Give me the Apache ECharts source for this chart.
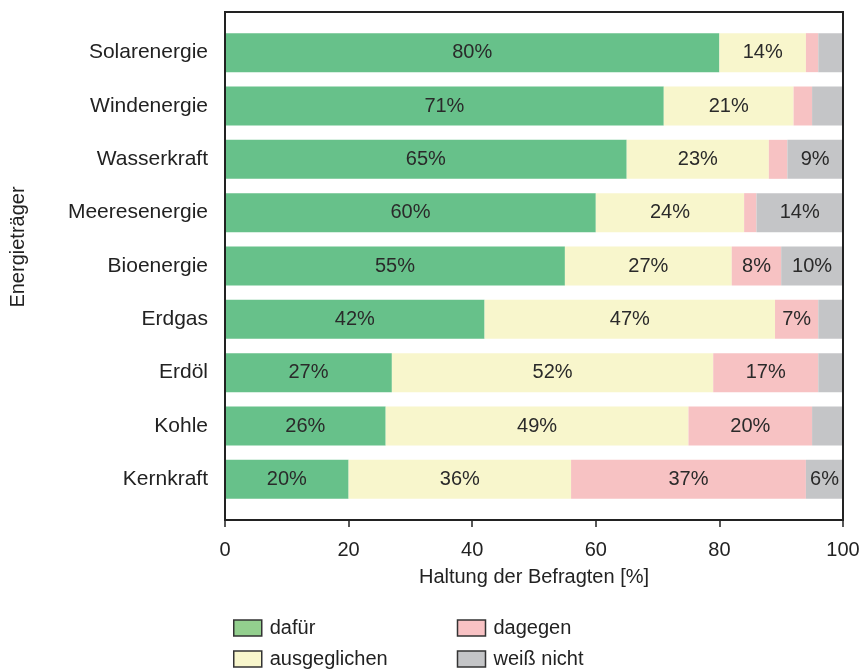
<!DOCTYPE html>
<html><head><meta charset="utf-8">
<script src="https://cdn.jsdelivr.net/npm/echarts@6/dist/echarts.min.js"></script>
<style>html,body{margin:0;padding:0;background:#fff}#c{width:859px;height:671px}</style>
</head><body><div id="c"></div>
<script>
const categories = ['Solarenergie','Windenergie','Wasserkraft','Meeresenergie','Bioenergie','Erdgas','Erdöl','Kohle','Kernkraft'];
const seriesNames = ['dafür','ausgeglichen','dagegen','weiß nicht'];
const dafuer       = [80, 71, 65, 60, 55, 42, 27, 26, 20];
const ausgeglichen = [14, 21, 23, 24, 27, 47, 52, 49, 36];
const dagegen      = [2, 3, 3, 2, 8, 7, 17, 20, 38];
const weissNicht   = [4, 5, 9, 14, 10, 4, 4, 5, 6];
// printed labels (as shown in the source chart)
const dagegenLabels = ['', '', '', '', '8%', '7%', '17%', '20%', '37%'];
const xTicks = [0, 20, 40, 60, 80, 100];

const colors = ['#67c18a', '#f8f6cc', '#f7c2c3', '#c4c5c7'];
const legendColors = ['#93cf8e', '#f8f6cc', '#f8c2c4', '#c4c5c7'];
const font = 'Liberation Sans, Arial, Helvetica, sans-serif';

const G = {left: 225, right: 16, top: 26, height: 480};
const frameTop = 12, frameBottom = 520;

function mk(name, data, idx, labels) {
  return {
    name, type: 'bar', stack: 'a', data, barWidth: 39,
    itemStyle: {color: colors[idx]},
    label: {
      show: true, position: 'inside', color: '#2a2a2a', fontSize: 20, fontFamily: font,
      formatter: p => labels ? labels[p.dataIndex] : (p.value >= 6 ? p.value + '%' : '')
    }
  };
}

const chart = echarts.init(document.getElementById('c'));
chart.setOption({
  animation: false,
  textStyle: {fontFamily: font},
  grid: {left: G.left, right: G.right, top: G.top, height: G.height, outerBoundsMode: 'none', containLabel: false},
  xAxis: {
    type: 'value', min: 0, max: 100, interval: 20, position: 'bottom', offset: frameBottom - (G.top + G.height),
    axisLine: {show: false},
    axisTick: {show: true, length: 7, lineStyle: {color: '#222', width: 1.5}},
    splitLine: {show: false},
    axisLabel: {fontSize: 20, color: '#222', margin: 20, fontFamily: font,
      formatter: v => xTicks.includes(v) ? String(v) : ''},
    name: 'Haltung der Befragten [%]', nameLocation: 'middle', nameGap: 47,
    nameTextStyle: {fontSize: 20, color: '#222', fontFamily: font}
  },
  yAxis: {
    type: 'category', data: categories, inverse: true,
    axisLine: {show: false}, axisTick: {show: false},
    axisLabel: {fontSize: 21, color: '#222', margin: 17, fontFamily: font}
  },
  legend: {
    orient: 'vertical', left: 233, top: 617, height: 58, padding: 0,
    icon: 'rect', itemWidth: 28, itemHeight: 16, itemGap: 9,
    data: seriesNames.map((n, i) => ({name: n, itemStyle: {color: legendColors[i], borderColor: '#333', borderWidth: 1.5}})),
    itemStyle: {borderColor: '#333', borderWidth: 1.5},
    textStyle: {fontSize: 20, color: '#222', fontFamily: font, lineHeight: 22, width: 178, padding: [0, 0, 0, 3]}
  },
  graphic: [
    {type: 'rect', silent: true, z: 10,
     shape: {x: G.left, y: frameTop, width: 859 - G.left - G.right, height: frameBottom - frameTop},
     style: {fill: 'none', stroke: '#222', lineWidth: 2}},
    {type: 'text', x: 18, y: 247, rotation: Math.PI / 2,
     style: {text: 'Energieträger', fontSize: 20, fill: '#222', fontFamily: font, align: 'center', verticalAlign: 'middle'}}
  ],
  series: [
    mk(seriesNames[0], dafuer, 0),
    mk(seriesNames[1], ausgeglichen, 1),
    mk(seriesNames[2], dagegen, 2, dagegenLabels),
    mk(seriesNames[3], weissNicht, 3)
  ]
});
</script></body></html>
